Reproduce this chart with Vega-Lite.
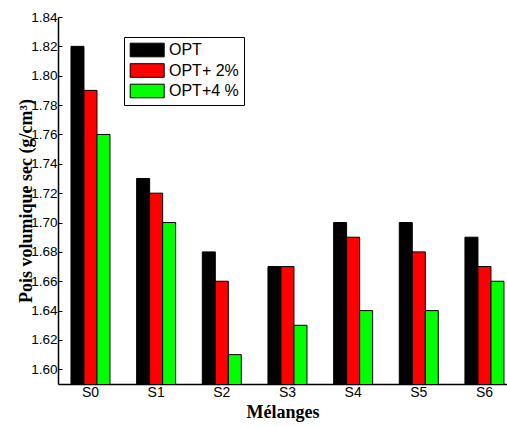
{
  "$schema": "https://vega.github.io/schema/vega-lite/v6.json",
  "width": 449,
  "height": 367,
  "autosize": {"type": "none"},
  "padding": {"left": 58, "top": 17, "right": 0, "bottom": 43},
  "background": "white",
  "config": {"view": {"stroke": null}, "font": "Liberation Sans"},
  "data": {"values": [
    {"melange": "S0", "serie": "OPT", "valeur": 1.82},
    {"melange": "S0", "serie": "OPT+ 2%", "valeur": 1.79},
    {"melange": "S0", "serie": "OPT+4 %", "valeur": 1.76},
    {"melange": "S1", "serie": "OPT", "valeur": 1.73},
    {"melange": "S1", "serie": "OPT+ 2%", "valeur": 1.72},
    {"melange": "S1", "serie": "OPT+4 %", "valeur": 1.70},
    {"melange": "S2", "serie": "OPT", "valeur": 1.68},
    {"melange": "S2", "serie": "OPT+ 2%", "valeur": 1.66},
    {"melange": "S2", "serie": "OPT+4 %", "valeur": 1.61},
    {"melange": "S3", "serie": "OPT", "valeur": 1.67},
    {"melange": "S3", "serie": "OPT+ 2%", "valeur": 1.67},
    {"melange": "S3", "serie": "OPT+4 %", "valeur": 1.63},
    {"melange": "S4", "serie": "OPT", "valeur": 1.70},
    {"melange": "S4", "serie": "OPT+ 2%", "valeur": 1.69},
    {"melange": "S4", "serie": "OPT+4 %", "valeur": 1.64},
    {"melange": "S5", "serie": "OPT", "valeur": 1.70},
    {"melange": "S5", "serie": "OPT+ 2%", "valeur": 1.68},
    {"melange": "S5", "serie": "OPT+4 %", "valeur": 1.64},
    {"melange": "S6", "serie": "OPT", "valeur": 1.69},
    {"melange": "S6", "serie": "OPT+ 2%", "valeur": 1.67},
    {"melange": "S6", "serie": "OPT+4 %", "valeur": 1.66}
  ]},
  "mark": {"type": "bar", "stroke": "#000000", "strokeWidth": 1, "clip": true},
  "encoding": {
    "x": {
      "field": "melange",
      "type": "nominal",
      "sort": ["S0", "S1", "S2", "S3", "S4", "S5", "S6"],
      "scale": {"paddingInner": 0.406, "paddingOuter": 0.122, "align": 0.81},
      "axis": {
        "title": "Mélanges",
        "titleFont": "Liberation Serif",
        "titleFontWeight": "bold",
        "titleFontSize": 18,
        "titleColor": "#000000",
        "titlePadding": 4,
        "labelAngle": 0,
        "labelFont": "Liberation Sans",
        "labelFontSize": 14,
        "labelColor": "#000000",
        "labelPadding": 1,
        "ticks": false,
        "domainColor": "#000000",
        "domainWidth": 1.5
      }
    },
    "xOffset": {
      "field": "serie",
      "type": "nominal",
      "sort": ["OPT", "OPT+ 2%", "OPT+4 %"],
      "scale": {"paddingInner": 0, "paddingOuter": 0}
    },
    "y": {
      "field": "valeur",
      "type": "quantitative",
      "scale": {"domain": [1.59, 1.84], "zero": false, "nice": false},
      "axis": {
        "title": "Pois volumique sec (g/cm³)",
        "titleFont": "Liberation Serif",
        "titleFontWeight": "bold",
        "titleFontSize": 18,
        "titleColor": "#000000",
        "titlePadding": -5,
        "values": [1.60, 1.62, 1.64, 1.66, 1.68, 1.70, 1.72, 1.74, 1.76, 1.78, 1.80, 1.82, 1.84],
        "format": ".2f",
        "labelFont": "Liberation Sans",
        "labelFontSize": 13.5,
        "labelColor": "#000000",
        "labelPadding": 5,
        "tickSize": -4,
        "tickColor": "#000000",
        "domainColor": "#000000",
        "domainWidth": 1.5,
        "grid": false
      }
    },
    "color": {
      "field": "serie",
      "type": "nominal",
      "sort": ["OPT", "OPT+ 2%", "OPT+4 %"],
      "scale": {"domain": ["OPT", "OPT+ 2%", "OPT+4 %"], "range": ["#000000", "#ff0000", "#00ff00"]},
      "legend": {
        "title": null,
        "orient": "none",
        "legendX": 66,
        "legendY": 20,
        "symbolType": "M-1,-1H4V1H-1Z",
        "symbolSize": 185,
        "symbolStrokeColor": "#000000",
        "symbolStrokeWidth": 1,
        "symbolOpacity": 1,
        "labelFont": "Liberation Sans",
        "labelFontSize": 16,
        "labelColor": "#000000",
        "labelOffset": 24,
        "rowPadding": 2.5,
        "padding": 5,
        "strokeColor": "#000000",
        "fillColor": "#ffffff"
      }
    }
  }
}
